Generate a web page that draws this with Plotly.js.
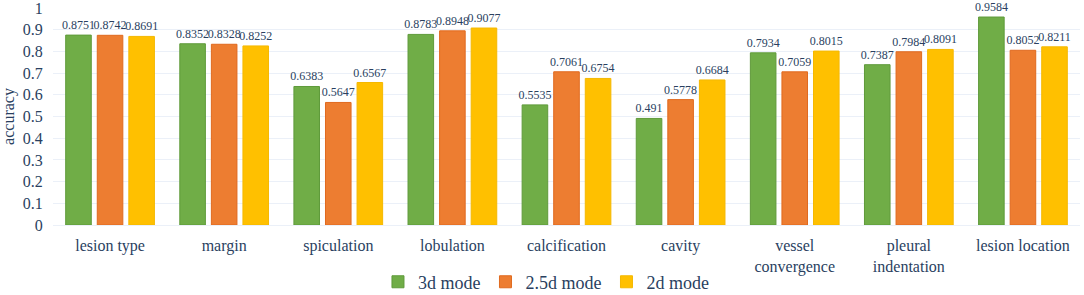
<!DOCTYPE html>
<html>
<head>
<meta charset="utf-8">
<script src="https://cdn.plot.ly/plotly-3.0.1.min.js"></script>
<style>html,body{margin:0;padding:0;background:#fff;}#chart{width:1084px;height:295px;}</style>
</head>
<body>
<div id="chart"></div>
<script>
const categories = ["lesion type", "margin", "spiculation", "lobulation", "calcification", "cavity", "vessel<br>convergence", "pleural<br>indentation", "lesion location"];
const seriesNames = ["3d mode", "2.5d mode", "2d mode"];
const mode3d = [0.8751, 0.8352, 0.6383, 0.8783, 0.5535, 0.491, 0.7934, 0.7387, 0.9584];
const mode25d = [0.8742, 0.8328, 0.5647, 0.8948, 0.7061, 0.5778, 0.7059, 0.7984, 0.8052];
const mode2d = [0.8691, 0.8252, 0.6567, 0.9077, 0.6754, 0.6684, 0.8015, 0.8091, 0.8211];
const yTicks = [0, 0.1, 0.2, 0.3, 0.4, 0.5, 0.6, 0.7, 0.8, 0.9, 1];

const fills = ["#70ad47", "#ed7d31", "#ffc000"];
const lines = ["#5f9a3a", "#e06a1f", "#f5b800"];
const values = [mode3d, mode25d, mode2d];
const font = "Liberation Serif";
const txtColor = "#2a3f5f";

const traces = values.map((v, i) => ({
  type: "bar",
  name: seriesNames[i],
  x: categories,
  y: v,
  text: v.map(String),
  textposition: "outside",
  constraintext: "none",
  cliponaxis: false,
  textfont: {family: font, size: 12, color: txtColor},
  marker: {color: fills[i], line: {color: lines[i], width: 1}},
  hoverinfo: "none"
}));

const layout = {
  width: 1084, height: 295,
  margin: {l: 53, r: 4, t: 8, b: 70, autoexpand: false},
  paper_bgcolor: "#fff", plot_bgcolor: "#fff",
  font: {family: font, color: txtColor, size: 16},
  barmode: "group",
  bargap: 0.17,
  bargroupgap: 0.19,
  showlegend: true,
  legend: {orientation: "h", x: 0.4805, xanchor: "center", y: -0.263, yanchor: "middle",
           font: {family: font, size: 18, color: txtColor}, itemwidth: 30, tracegroupgap: 0},
  xaxis: {automargin: false, tickfont: {family: font, size: 16, color: txtColor}, showgrid: false, zeroline: false, showline: false,
          ticks: "outside", ticklen: 6, tickcolor: "rgba(0,0,0,0)"},
  yaxis: {automargin: false, range: [0, 1], tickvals: yTicks, ticktext: yTicks.map(String),
          ticklabeloverflow: "allow",
          tickfont: {family: font, size: 16, color: txtColor},
          gridcolor: "#ebf0f8", gridwidth: 1, zeroline: true, zerolinecolor: "#ebf0f8", zerolinewidth: 1,
          showline: false, ticks: "outside", ticklen: 6, tickcolor: "rgba(0,0,0,0)",
          title: {text: "accuracy", font: {family: font, size: 16, color: txtColor}, standoff: 4}}
};

Plotly.newPlot("chart", traces, layout, {displayModeBar: false, staticPlot: true});
</script>
</body>
</html>
